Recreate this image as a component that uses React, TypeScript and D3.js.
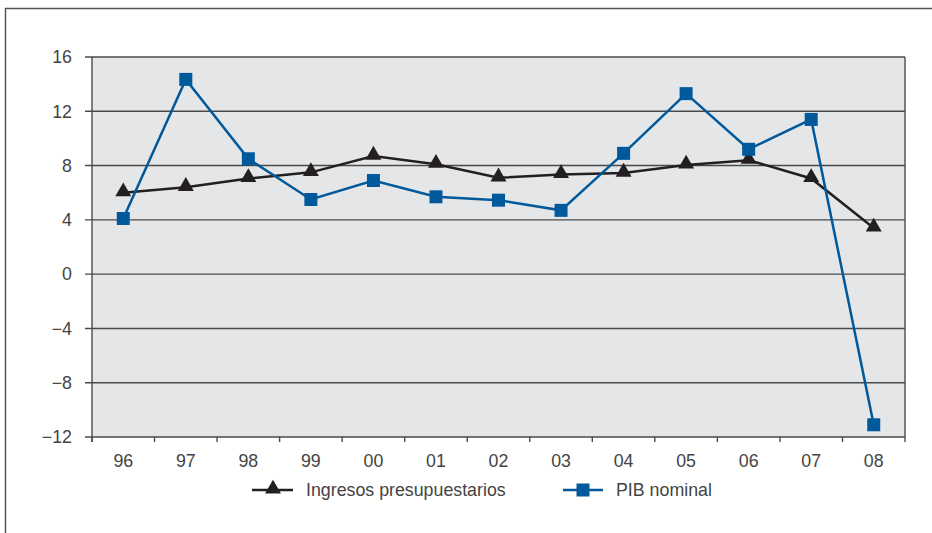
import React from "react";
import * as d3 from "d3";

const categories = ["96", "97", "98", "99", "00", "01", "02", "03", "04", "05", "06", "07", "08"];
const ingresos = [6.0, 6.4, 7.05, 7.5, 8.7, 8.1, 7.1, 7.35, 7.45, 8.05, 8.4, 7.05, 3.4];
const pib = [4.1, 14.35, 8.5, 5.5, 6.9, 5.7, 5.45, 4.7, 8.9, 13.3, 9.2, 11.4, -11.1];
const yTicks = [16, 12, 8, 4, 0, -4, -8, -12];
const seriesNames = ["Ingresos presupuestarios", "PIB nominal"];

const W = 932, H = 533;
const plot = { left: 92, right: 905, top: 57, bottom: 437 };
const BLACK = "#231f20";
const BLUE = "#00599b";
const GRID = "#4a4a4a";
const TEXT = "#444444";
const FONT = "'Liberation Sans', Arial, sans-serif";
const FS = 17.8;

export default function App() {
  const x = d3.scaleBand<string>().domain(categories).range([plot.left, plot.right]);
  const y = d3.scaleLinear().domain([-12, 16]).range([plot.bottom, plot.top]);
  const cx = (c: string) => (x(c) as number) + x.bandwidth() / 2;
  const line = d3.line<number>().x((_, i) => cx(categories[i])).y((d) => y(d));
  const tri = d3.symbol().type(d3.symbolTriangle).size(110)();

  return (
    <svg width={W} height={H} style={{ position: "absolute", left: 0, top: 0 }} fontFamily={FONT}>
      <rect x={0} y={0} width={W} height={H} fill="#fff" />
      <line x1={5} x2={W} y1={8.5} y2={8.5} stroke="#555" strokeWidth={1.5} />
      <line x1={5.5} x2={5.5} y1={8} y2={H} stroke="#555" strokeWidth={1.5} />

      <rect x={plot.left} y={plot.top} width={plot.right - plot.left} height={plot.bottom - plot.top} fill="#e5e6e8" />
      {yTicks.map((t) => (
        <g key={t}>
          <line x1={85} x2={plot.right} y1={y(t)} y2={y(t)} stroke={GRID} strokeWidth={1.4} />
          <text x={72} y={y(t)} dy="0.35em" textAnchor="end" fontSize={FS} fill={TEXT}>
            {t < 0 ? "\u2212" + Math.abs(t) : t}
          </text>
        </g>
      ))}
      <line x1={plot.left} x2={plot.left} y1={plot.top} y2={plot.bottom + 5} stroke={GRID} strokeWidth={1.4} />
      <line x1={plot.right} x2={plot.right} y1={plot.top} y2={plot.bottom + 5} stroke={GRID} strokeWidth={1.4} />
      {categories.map((c) => (
        <g key={c}>
          <line x1={x(c) as number} x2={x(c) as number} y1={plot.bottom} y2={plot.bottom + 5} stroke={GRID} strokeWidth={1.4} />
          <text x={cx(c)} y={467} textAnchor="middle" fontSize={FS} fill={TEXT}>{c}</text>
        </g>
      ))}

      <path d={line(ingresos) || ""} fill="none" stroke={BLACK} strokeWidth={2.5} />
      <path d={line(pib) || ""} fill="none" stroke={BLUE} strokeWidth={2.5} />
      {ingresos.map((v, i) => (
        <path key={"t" + i} d={tri || ""} transform={`translate(${cx(categories[i])},${y(v) - 1})`} fill={BLACK} />
      ))}
      {pib.map((v, i) => (
        <rect key={"s" + i} x={cx(categories[i]) - 6.5} y={y(v) - 6.5} width={13} height={13} fill={BLUE} />
      ))}

      <g>
        <line x1={252} x2={293} y1={490} y2={490} stroke={BLACK} strokeWidth={2.5} />
        <path d={tri || ""} transform={`translate(273,489)`} fill={BLACK} />
        <text x={306} y={495.5} fontSize={FS} fill={TEXT}>{seriesNames[0]}</text>
        <line x1={563} x2={603} y1={490} y2={490} stroke={BLUE} strokeWidth={2.5} />
        <rect x={576.5} y={483.5} width={13} height={13} fill={BLUE} />
        <text x={616} y={495.5} fontSize={FS} fill={TEXT}>{seriesNames[1]}</text>
      </g>
    </svg>
  );
}
